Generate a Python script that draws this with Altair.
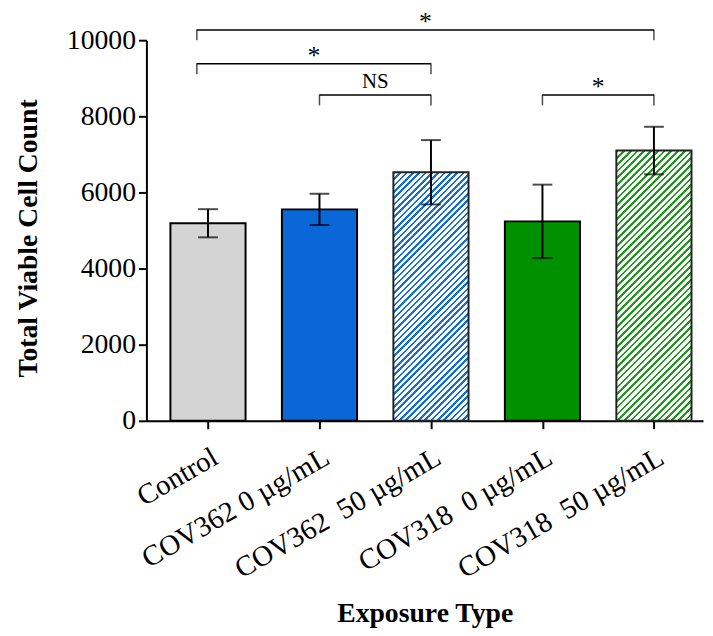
import json
import altair as alt
import pandas as pd

# ---- data ----
groups = ["Control", "COV362 0 \u00b5g/mL", "COV362\u00a0 50 \u00b5g/mL",
          "COV318\u00a0 0 \u00b5g/mL", "COV318\u00a0 50 \u00b5g/mL"]
means = [5190, 5555, 6530, 5240, 7100]
errors = [370, 410, 845, 965, 625]
hatched = [False, False, True, False, True]
colors = ["#d4d4d4", "#0a67d8", "#1470d8", "#009000", "#1f9a1f"]

br_start = [-0.1, -0.1, 1, 3]
br_end = [4, 2, 2, 4]
br_level = [10270, 9380, 8560, 8560]
br_label = ["*", "*", "NS", "*"]

# ---- layout / style ----
W, H = 563, 385
YMAX = 10000
BAR_W = 76
FONT = "Liberation Serif"

df = pd.DataFrame({
    "idx": list(range(len(groups))),
    "group": groups,
    "mean": means,
    "lo": [m - e for m, e in zip(means, errors)],
    "hi": [m + e for m, e in zip(means, errors)],
    "hatched": hatched,
})
br = pd.DataFrame({"x": br_start, "x2": br_end, "y": br_level, "label": br_label,
                   "xm": [(a + b) / 2 for a, b in zip(br_start, br_end)]})

label_expr = json.dumps(groups) + "[round(datum.value)]"
xscale = alt.Scale(domain=[-0.508, 4.396], nice=False, zero=False)
yscale = alt.Scale(domain=[0, YMAX], nice=False)

xenc = alt.X("idx:Q", scale=xscale,
             axis=alt.Axis(values=list(range(len(groups))), labelExpr=label_expr,
                           title="Exposure Type", grid=False, labelAngle=-30,
                           labelAlign="right", labelBaseline="top", labelFontSize=29,
                           labelPadding=14, labelOverlap=False, labelLimit=0,
                           labelFlush=False,
                           titlePadding=16, titleFontSize=28,
                           titleFontWeight="bold", tickSize=8, tickWidth=2,
                           domainWidth=2, labelFont=FONT, titleFont=FONT,
                           labelColor="black", titleColor="black",
                           domainColor="black", tickColor="black"))
yenc = alt.Y("mean:Q", scale=yscale,
             axis=alt.Axis(values=[0, 2000, 4000, 6000, 8000, 10000], format="d",
                           title="Total Viable Cell Count", grid=False,
                           labelFontSize=28, labelPadding=3, titlePadding=24,
                           titleY=200,
                           titleFontSize=28, titleFontWeight="bold", tickSize=8,
                           tickWidth=2, domainWidth=2, labelFont=FONT, titleFont=FONT,
                           labelColor="black", titleColor="black",
                           domainColor="black", tickColor="black"))

base = alt.Chart(df)

solid = base.transform_filter("!datum.hatched").mark_bar(
    size=BAR_W, stroke="black", strokeWidth=2
).encode(
    x=xenc, y=yenc,
    fill=alt.Fill("group:N", scale=alt.Scale(domain=groups, range=colors), legend=None),
)


def hatch_gradient(value, color, cells=5, on=2):
    # stripes aligned on 1/256 steps of the gradient so that every stripe renders alike
    hpx = value / YMAX * H
    w = BAR_W
    k = (w + hpx) / (w * w + hpx * hpx)
    stops = []
    pos = 0
    while pos < 256:
        a = pos / 256
        b = min(pos + on, 256) / 256
        c = min(pos + cells, 256) / 256
        stops += [alt.GradientStop(offset=a, color=color),
                  alt.GradientStop(offset=b, color=color),
                  alt.GradientStop(offset=b, color="white"),
                  alt.GradientStop(offset=c, color="white")]
        pos += cells
    return alt.Gradient(gradient="linear", stops=stops, x1=0, y1=0,
                        x2=w * k, y2=hpx * k)


hatch_layers = []
for i, g in enumerate(groups):
    if hatched[i]:
        hatch_layers.append(
            base.transform_filter(alt.datum.idx == i).mark_bar(
                size=BAR_W, stroke="#222222", strokeWidth=2,
                fill=hatch_gradient(means[i], colors[i]),
            ).encode(x=xenc, y=yenc)
        )

err = base.mark_rule(color="black", strokeWidth=2).encode(
    x="idx:Q", y="lo:Q", y2="hi:Q")
cap_hi = base.mark_tick(orient="horizontal", size=20, thickness=2, color="black").encode(
    x="idx:Q", y="hi:Q")
cap_lo = base.mark_tick(orient="horizontal", size=20, thickness=2, color="black").encode(
    x="idx:Q", y="lo:Q")

bchart = alt.Chart(br)
br_line = bchart.mark_rule(color="black", strokeWidth=1.5).encode(
    x="x:Q", x2="x2:Q", y="y:Q")
br_left = bchart.mark_tick(orient="vertical", size=11, thickness=1.5, yOffset=5,
                           color="black").encode(x="x:Q", y="y:Q")
br_right = bchart.mark_tick(orient="vertical", size=11, thickness=1.5, yOffset=5,
                            color="black").encode(x="x2:Q", y="y:Q")
br_star = bchart.transform_filter("datum.label == '*'").mark_text(
    font=FONT, fontSize=26, baseline="bottom", dy=5, color="black"
).encode(x="xm:Q", y="y:Q", text="label:N")
br_ns = bchart.transform_filter("datum.label != '*'").mark_text(
    font=FONT, fontSize=21, baseline="bottom", dy=-3, color="black"
).encode(x="xm:Q", y="y:Q", text="label:N")

chart = alt.layer(
    solid, *hatch_layers, err, cap_hi, cap_lo,
    br_line, br_left, br_right, br_star, br_ns
).properties(
    width=W, height=H,
    background="white",
    autosize=alt.AutoSizeParams(type="none"),
    padding={"left": 140, "top": 29, "right": 2, "bottom": 206},
).configure_view(strokeWidth=0)

chart.save("out.html", embed_options={"renderer": "svg", "actions": False})
